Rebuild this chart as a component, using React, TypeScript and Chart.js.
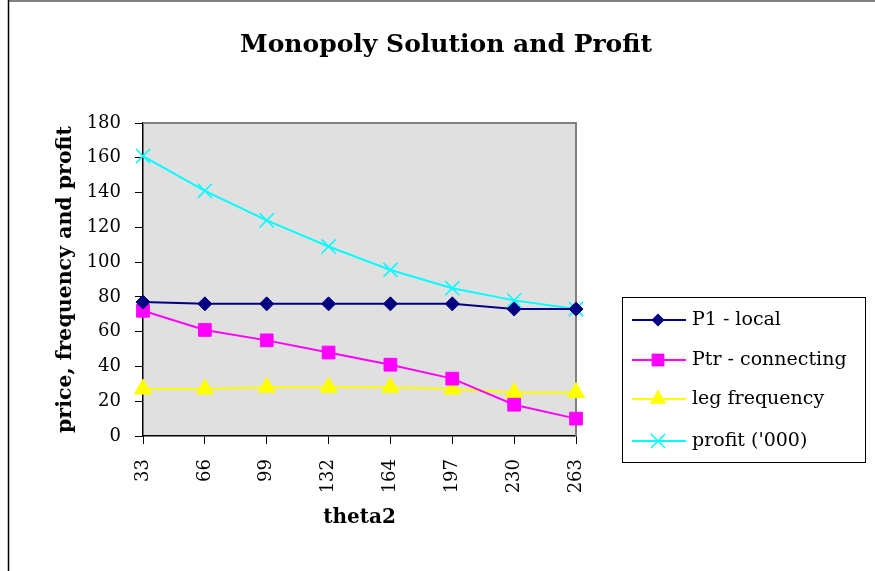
import React, { useEffect, useRef } from 'react';
import { Chart, registerables } from 'chart.js';

Chart.register(...registerables);

const chartTitle = 'Monopoly Solution and Profit';
const xTitle = 'theta2';
const yTitle = 'price, frequency and profit';
const categories = ['33', '66', '99', '132', '164', '197', '230', '263'];
const seriesNames = ['P1 - local', 'Ptr - connecting', 'leg frequency', "profit ('000)"];
const p1Local = [77, 76, 76, 76, 76, 76, 73, 73];
const ptrConnecting = [72, 61, 55, 48, 41, 33, 18, 10];
const legFrequency = [27, 27, 28, 28, 28, 27, 25, 25];
const profit = [161, 141, 124, 109, 95.5, 85, 78, 73];
const yMin = 0;
const yMax = 180;
const yStep = 20;

const FONT = 'DejaVu Serif';

function drawMarker(ctx: CanvasRenderingContext2D, style: string, x: number, y: number, r: number, color: string) {
  ctx.save();
  ctx.fillStyle = color;
  ctx.strokeStyle = color;
  ctx.beginPath();
  if (style === 'rectRot') {
    ctx.moveTo(x, y - r);
    ctx.lineTo(x + r, y);
    ctx.lineTo(x, y + r);
    ctx.lineTo(x - r, y);
    ctx.closePath();
    ctx.fill();
  } else if (style === 'rect') {
    const s = Math.SQRT1_2 * r;
    ctx.rect(x - s, y - s, 2 * s, 2 * s);
    ctx.fill();
  } else if (style === 'triangle') {
    for (let i = 0; i < 3; i++) {
      const a = (i * 2 * Math.PI) / 3;
      const px = x + Math.sin(a) * r;
      const py = y - Math.cos(a) * r;
      if (i === 0) ctx.moveTo(px, py);
      else ctx.lineTo(px, py);
    }
    ctx.closePath();
    ctx.fill();
  } else if (style === 'crossRot') {
    const s = Math.SQRT1_2 * r;
    ctx.lineWidth = 1.5;
    ctx.moveTo(x - s, y - s);
    ctx.lineTo(x + s, y + s);
    ctx.moveTo(x - s, y + s);
    ctx.lineTo(x + s, y - s);
    ctx.stroke();
  }
  ctx.restore();
}

const framePlugin = {
  id: 'framePlugin',
  beforeDraw(chart: any) {
    const { ctx, chartArea } = chart;
    ctx.save();
    ctx.fillStyle = '#ffffff';
    ctx.fillRect(0, 0, chart.width, chart.height);
    // outer frame
    ctx.strokeStyle = '#808080';
    ctx.lineWidth = 2;
    ctx.beginPath();
    ctx.moveTo(8, 1);
    ctx.lineTo(chart.width, 1);
    ctx.stroke();
    ctx.strokeStyle = '#000000';
    ctx.lineWidth = 1.5;
    ctx.beginPath();
    ctx.moveTo(8.5, 0);
    ctx.lineTo(8.5, chart.height);
    ctx.stroke();
    // plot background
    ctx.fillStyle = '#e0e0e0';
    ctx.fillRect(chartArea.left, chartArea.top, chartArea.right - chartArea.left, chartArea.bottom - chartArea.top);
    // title
    ctx.fillStyle = '#000000';
    ctx.font = `bold 25px "${FONT}"`;
    ctx.textAlign = 'center';
    ctx.textBaseline = 'alphabetic';
    ctx.fillText(chartTitle, 446, 52);
    ctx.restore();
  },
  beforeDatasetsDraw(chart: any) {
    const { ctx, chartArea } = chart;
    ctx.save();
    ctx.strokeStyle = '#808080';
    ctx.lineWidth = 2;
    ctx.beginPath();
    ctx.moveTo(chartArea.left, chartArea.top);
    ctx.lineTo(chartArea.right, chartArea.top);
    ctx.lineTo(chartArea.right, chartArea.bottom);
    ctx.stroke();
    ctx.restore();
  },
  afterDraw(chart: any) {
    const { ctx } = chart;
    ctx.save();
    const bx = 622, by = 297, bw = 243, bh = 165;
    ctx.strokeStyle = '#000000';
    ctx.lineWidth = 1;
    ctx.strokeRect(bx + 0.5, by + 0.5, bw, bh);
    const rows = [320, 360, 399, 441];
    chart.data.datasets.forEach((ds: any, i: number) => {
      const y = rows[i];
      ctx.strokeStyle = ds.borderColor;
      ctx.lineWidth = 2;
      ctx.beginPath();
      ctx.moveTo(632, y);
      ctx.lineTo(686, y);
      ctx.stroke();
      drawMarker(ctx, ds.pointStyle, 658, y, ds.legendRadius, ds.borderColor);
      ctx.fillStyle = '#000000';
      ctx.font = `19px "${FONT}"`;
      ctx.textAlign = 'left';
      ctx.textBaseline = 'middle';
      ctx.fillText(ds.label, 692, y);
    });
    ctx.restore();
  },
};

export default function App() {
  const canvasRef = useRef<HTMLCanvasElement | null>(null);

  useEffect(() => {
    if (!canvasRef.current) return;
    const chart = new Chart(canvasRef.current, {
      type: 'line',
      data: {
        labels: categories,
        datasets: [
          {
            label: seriesNames[0],
            data: p1Local,
            borderColor: '#000080',
            backgroundColor: '#000080',
            pointStyle: 'rectRot',
            pointRadius: 7,
            pointBorderWidth: 1,
            borderWidth: 2,
            legendRadius: 6.5,
          } as any,
          {
            label: seriesNames[1],
            data: ptrConnecting,
            borderColor: '#ff00ff',
            backgroundColor: '#ff00ff',
            pointStyle: 'rect',
            pointRadius: 9,
            pointBorderWidth: 1,
            borderWidth: 2,
            legendRadius: 9,
          } as any,
          {
            label: seriesNames[2],
            data: legFrequency,
            borderColor: '#ffff00',
            backgroundColor: '#ffff00',
            pointStyle: 'triangle',
            pointRadius: 10,
            pointBorderWidth: 1,
            borderWidth: 2,
            legendRadius: 9.5,
          } as any,
          {
            label: seriesNames[3],
            data: profit,
            borderColor: '#00ffff',
            backgroundColor: '#00ffff',
            pointStyle: 'crossRot',
            pointRadius: 10,
            pointBorderWidth: 1.5,
            borderWidth: 2,
            legendRadius: 10,
          } as any,
        ],
      },
      options: {
        responsive: false,
        animation: false,
        events: [],
        layout: { padding: { left: 0, top: 123, right: 299, bottom: 0 } },
        plugins: {
          legend: { display: false },
          title: { display: false },
          tooltip: { enabled: false },
        },
        scales: {
          x: {
            offset: false,
            ticks: {
              color: '#000000',
              font: { family: FONT, size: 18 },
              maxRotation: 90,
              minRotation: 90,
              padding: 15,
              autoSkip: false,
            },
            grid: { drawOnChartArea: false, tickLength: 8, color: '#000000', lineWidth: 1 },
            border: { color: '#000000', width: 1.5 },
            title: {
              display: true,
              text: xTitle,
              color: '#000000',
              font: { family: FONT, size: 20, weight: 'bold' },
              padding: { top: 0, bottom: 41 },
            },
            afterFit: (s: any) => {
              s.height = 571 - 436;
            },
          },
          y: {
            min: yMin,
            max: yMax,
            ticks: {
              stepSize: yStep,
              color: '#000000',
              font: { family: FONT, size: 18 },
              padding: 14,
            },
            grid: { drawOnChartArea: false, tickLength: 8, color: '#000000', lineWidth: 1 },
            border: { color: '#000000', width: 1.5 },
            title: {
              display: true,
              text: yTitle,
              color: '#000000',
              font: { family: FONT, size: 20.5, weight: 'bold' },
              padding: { top: 53, bottom: 0 },
            },
            afterFit: (s: any) => {
              s.width = 143;
            },
          },
        },
      } as any,
      plugins: [framePlugin],
    });
    return () => chart.destroy();
  }, []);

  return (
    <div style={{ position: 'absolute', left: 0, top: 0, width: 875, height: 571, overflow: 'hidden' }}>
      <canvas ref={canvasRef} width={875} height={571} style={{ width: 875, height: 571, display: 'block' }} />
    </div>
  );
}
